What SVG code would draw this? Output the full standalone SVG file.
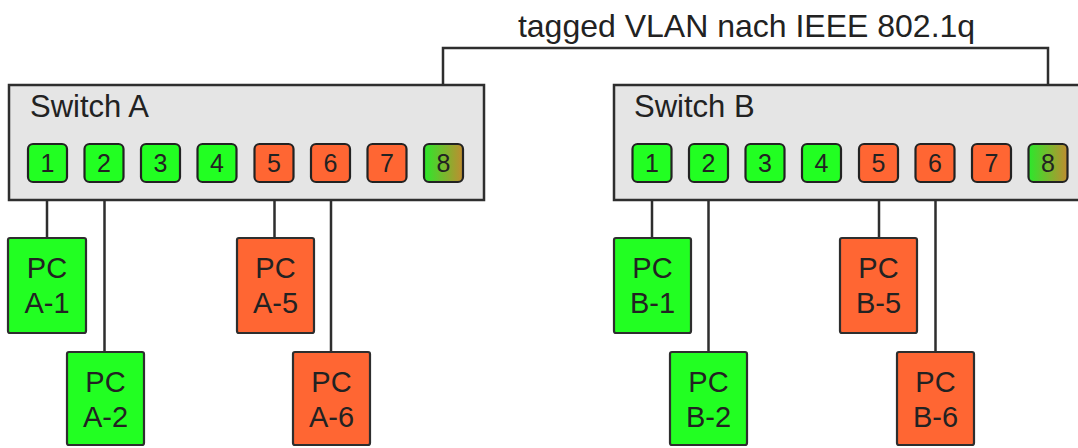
<svg xmlns="http://www.w3.org/2000/svg" width="1078" height="448" viewBox="0 0 1078 448">
<style>
text{font-family:"Liberation Sans",Arial,sans-serif;fill:#222}
.sw{fill:#e5e5e5;stroke:#2e2e2e;stroke-width:2.5}
.port{stroke:#222;stroke-width:2.2}
.g{fill:#22ff22}
.o{fill:#ff6633}
.t{fill:url(#trunk)}
.pn{font-size:25px;text-anchor:middle}
.pc{stroke:#2e2e2e;stroke-width:2.2}
.pt{font-size:29px;text-anchor:middle}
.lbl{font-size:31px}
.conn{fill:none;stroke:#2e2e2e;stroke-width:2.5}
</style>
<defs>
<linearGradient id="trunk" x1="0" y1="0" x2="1" y2="0">
<stop offset="0" stop-color="#2be82b"/>
<stop offset="1" stop-color="#c08c30"/>
</linearGradient>
</defs>
<g id="connectors">
<path class="conn" d="M443 144V48H1048V144"/>
<path class="conn" d="M47 182V238M104.5 182V352M274.5 182V238M331 182V352"/>
<path class="conn" d="M652 182V238M708.5 182V352M879 182V238M935.5 182V352"/>
</g>
<text x="746.5" y="37" style="font-size:32px;text-anchor:middle">tagged VLAN nach IEEE 802.1q</text>
<g id="switch-a">
<rect class="sw" x="9" y="85" width="475" height="115"/>
<text class="lbl" x="30" y="117">Switch A</text>
<rect class="port g" x="28" y="144" width="39" height="38" rx="5"/><text class="pn" x="47.5" y="172">1</text>
<rect class="port g" x="84.5" y="144" width="39" height="38" rx="5"/><text class="pn" x="104" y="172">2</text>
<rect class="port g" x="141" y="144" width="39" height="38" rx="5"/><text class="pn" x="160.5" y="172">3</text>
<rect class="port g" x="197.5" y="144" width="39" height="38" rx="5"/><text class="pn" x="217" y="172">4</text>
<rect class="port o" x="254.5" y="144" width="39" height="38" rx="5"/><text class="pn" x="274" y="172">5</text>
<rect class="port o" x="311" y="144" width="39" height="38" rx="5"/><text class="pn" x="330.5" y="172">6</text>
<rect class="port o" x="367.5" y="144" width="39" height="38" rx="5"/><text class="pn" x="387" y="172">7</text>
<rect class="port t" x="424" y="144" width="39" height="38" rx="5"/><text class="pn" x="443.5" y="172">8</text>
</g>
<g id="switch-b">
<rect class="sw" x="614" y="85" width="475" height="115"/>
<text class="lbl" x="634" y="117">Switch B</text>
<rect class="port g" x="632.5" y="144" width="39" height="38" rx="5"/><text class="pn" x="652" y="172">1</text>
<rect class="port g" x="689" y="144" width="39" height="38" rx="5"/><text class="pn" x="708.5" y="172">2</text>
<rect class="port g" x="745.5" y="144" width="39" height="38" rx="5"/><text class="pn" x="765" y="172">3</text>
<rect class="port g" x="802" y="144" width="39" height="38" rx="5"/><text class="pn" x="821.5" y="172">4</text>
<rect class="port o" x="859" y="144" width="39" height="38" rx="5"/><text class="pn" x="878.5" y="172">5</text>
<rect class="port o" x="915.5" y="144" width="39" height="38" rx="5"/><text class="pn" x="935" y="172">6</text>
<rect class="port o" x="972" y="144" width="39" height="38" rx="5"/><text class="pn" x="991.5" y="172">7</text>
<rect class="port t" x="1028.5" y="144" width="39" height="38" rx="5"/><text class="pn" x="1048" y="172">8</text>
</g>
<g id="pc-a1"><rect class="pc g" x="8" y="238" width="78" height="95" rx="2"/><text class="pt" x="47" y="278">PC</text><text class="pt" x="47" y="313">A-1</text></g>
<g id="pc-a2"><rect class="pc g" x="67" y="352" width="77" height="93" rx="2"/><text class="pt" x="105.5" y="392">PC</text><text class="pt" x="105.5" y="427">A-2</text></g>
<g id="pc-a5"><rect class="pc o" x="237" y="238" width="77" height="95" rx="2"/><text class="pt" x="275.5" y="278">PC</text><text class="pt" x="275.5" y="313">A-5</text></g>
<g id="pc-a6"><rect class="pc o" x="293" y="352" width="77" height="93" rx="2"/><text class="pt" x="331.5" y="392">PC</text><text class="pt" x="331.5" y="427">A-6</text></g>
<g id="pc-b1"><rect class="pc g" x="614" y="238" width="77" height="95" rx="2"/><text class="pt" x="652.5" y="278">PC</text><text class="pt" x="652.5" y="313">B-1</text></g>
<g id="pc-b2"><rect class="pc g" x="670" y="352" width="77" height="93" rx="2"/><text class="pt" x="708.5" y="392">PC</text><text class="pt" x="708.5" y="427">B-2</text></g>
<g id="pc-b5"><rect class="pc o" x="840" y="238" width="77" height="95" rx="2"/><text class="pt" x="878.5" y="278">PC</text><text class="pt" x="878.5" y="313">B-5</text></g>
<g id="pc-b6"><rect class="pc o" x="897" y="352" width="77" height="93" rx="2"/><text class="pt" x="935.5" y="392">PC</text><text class="pt" x="935.5" y="427">B-6</text></g>
</svg>
